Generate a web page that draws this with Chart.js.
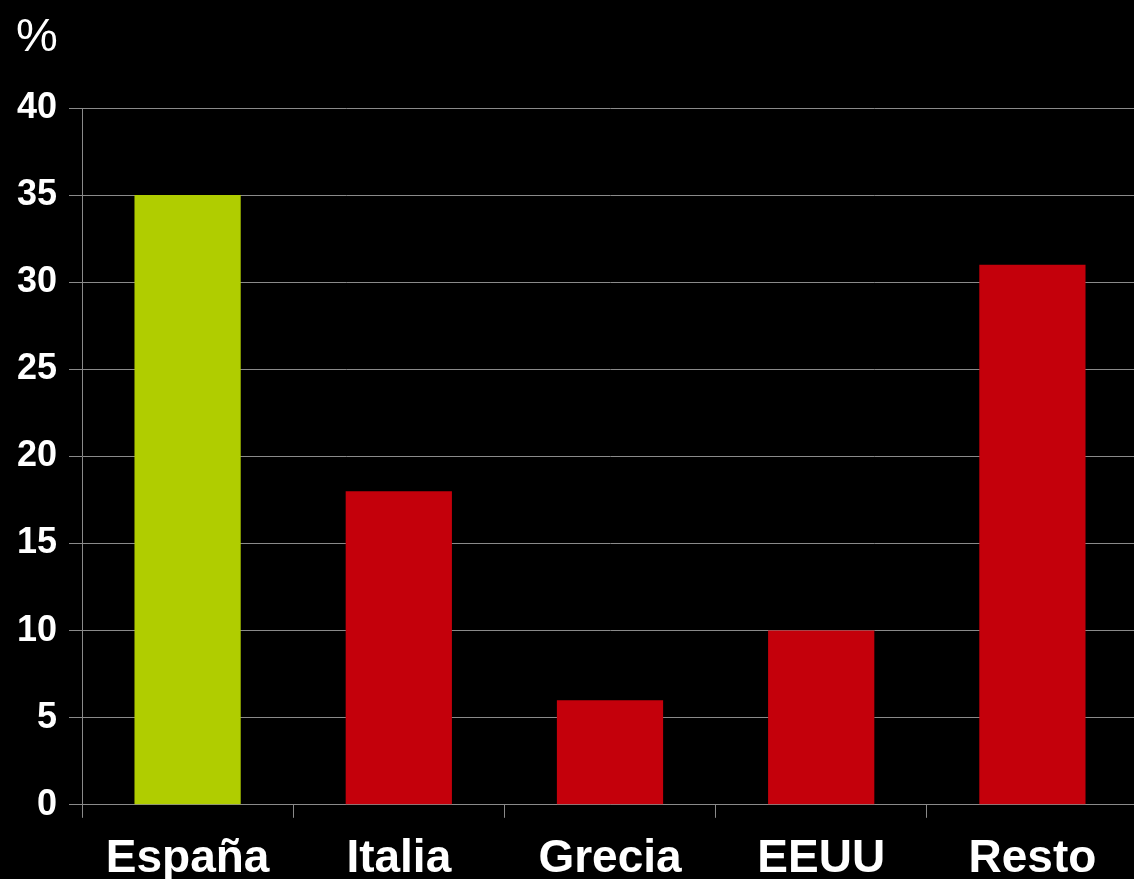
<!DOCTYPE html>
<html>
<head>
<meta charset="utf-8">
<script src="https://cdn.jsdelivr.net/npm/chart.js@4"></script>
<style>
  html, body { margin: 0; padding: 0; background: #000; overflow: hidden; }
  #wrap { width: 1138px; height: 879px; }
</style>
</head>
<body>
<div id="wrap"><canvas id="c"></canvas></div>
<script>
// Share by country, in percent
const categories = ['España', 'Italia', 'Grecia', 'EEUU', 'Resto'];
const shares = [35, 18, 6, 10, 31];
const barColors = ['#b0cd00', '#c4000b', '#c4000b', '#c4000b', '#c4000b'];
const yTicks = [0, 5, 10, 15, 20, 25, 30, 35, 40];
const unitLabel = '%';

const gridColor = '#8a8a8a';
const fontFamily = '"Liberation Sans", Arial, sans-serif';

new Chart(document.getElementById('c'), {
  type: 'bar',
  data: {
    labels: categories,
    datasets: [{
      data: shares,
      backgroundColor: barColors,
      borderWidth: 0,
      categoryPercentage: 1,
      barPercentage: 0.503
    }]
  },
  options: {
    responsive: true,
    maintainAspectRatio: false,
    animation: false,
    layout: { padding: { left: 16, right: 0, top: 4, bottom: -22 } },
    plugins: {
      legend: { display: false },
      tooltip: { enabled: false },
      title: {
        display: true,
        text: unitLabel,
        align: 'start',
        color: '#ffffff',
        font: { family: fontFamily, size: 47, weight: 'normal', lineHeight: 1 },
        padding: { top: 11, bottom: 46 }
      }
    },
    scales: {
      x: {
        afterFit: (axis) => { axis.paddingLeft = 0; axis.paddingRight = 0; },
        grid: {
          offset: true,
          drawOnChartArea: false,
          color: gridColor,
          tickLength: 13,
          lineWidth: 1
        },
        border: { color: gridColor, width: 1 },
        ticks: {
          color: '#ffffff',
          padding: 14,
          maxRotation: 0,
          font: { family: fontFamily, size: 46, weight: 'bold' }
        }
      },
      y: {
        min: 0,
        max: 40,
        afterBuildTicks: (axis) => { axis.ticks = yTicks.map(v => ({ value: v })); },
        afterFit: (axis) => { axis.width = 66; },
        grid: { color: gridColor, tickLength: 13, lineWidth: 1 },
        border: { color: gridColor, width: 1 },
        ticks: {
          color: '#ffffff',
          padding: 12,
          font: { family: fontFamily, size: 36, weight: 'bold' }
        }
      }
    }
  },
  plugins: [{
    id: 'bg',
    beforeDraw(chart) {
      const ctx = chart.ctx;
      ctx.save();
      ctx.fillStyle = '#000';
      ctx.fillRect(0, 0, chart.width, chart.height);
      ctx.restore();
    }
  }]
});
</script>
</body>
</html>
